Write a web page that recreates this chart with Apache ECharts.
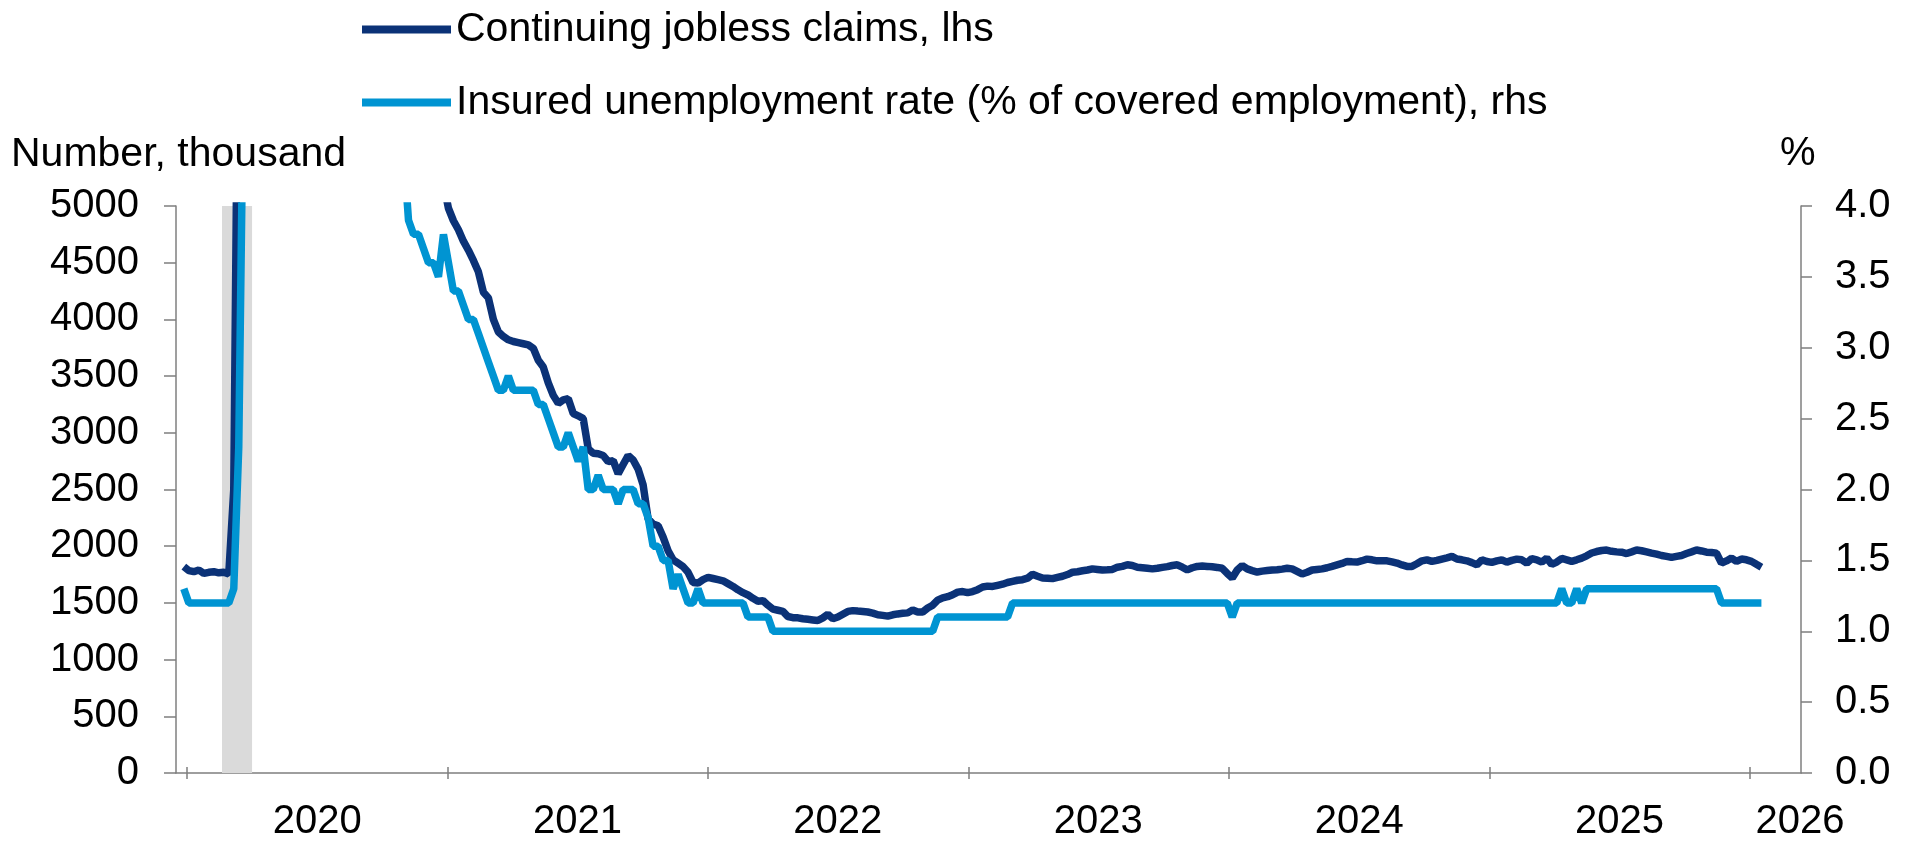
<!DOCTYPE html>
<html>
<head>
<meta charset="utf-8">
<title>Continuing jobless claims and insured unemployment rate</title>
<script src="https://cdn.jsdelivr.net/npm/echarts@6/dist/echarts.min.js"></script>
<style>
  html, body { margin: 0; padding: 0; background: #ffffff; }
  #chart { width: 1912px; height: 842px; }
</style>
</head>
<body>
<div id="chart"></div>
<script>
// Weekly observations, week ending Saturday, first week ends 2019-12-28.
const firstWeek = Date.UTC(2019, 11, 28);

// Continuing jobless claims, thousand (weekly blocks in order)
const claims2020 = [
  1820, 1785, 1775, 1790, 1760, 1770, 1775, 1765, 1770, 1755,
  2500, 7400, 12400, 16000, 18000, 22400, 22600, 24900, 21000, 20800,
  20500, 19500, 18800, 17800, 17300, 17100, 16200, 16100, 14800, 13600,
  13300, 13500, 12600, 12600, 11800, 10900, 10700, 10000, 9500, 8400,
  7800, 7300, 6900, 6400, 6100, 5800, 5500, 5300, 5300, 5200,
  5400, 5100, 5200
];
const claims2021 = [
  4980, 4870, 4790, 4690, 4610, 4520, 4420, 4240, 4190, 4000,
  3890, 3850, 3820, 3805, 3795, 3785, 3775, 3745, 3640, 3580,
  3440, 3330, 3260, 3290, 3300, 3170, 3150, 3125, 2860, 2820,
  2815, 2800, 2745, 2755, 2640, 2720, 2800, 2760, 2680, 2540,
  2240, 2195, 2180, 2080, 1960, 1880, 1850, 1820, 1770, 1680,
  1675, 1705
];
const claims2022 = [
  1725, 1715, 1705, 1695, 1670, 1645, 1615, 1590, 1570, 1540,
  1515, 1520, 1480, 1445, 1435, 1425, 1380, 1370, 1368, 1360,
  1355, 1350, 1345, 1368, 1400, 1360, 1375, 1400, 1425, 1432,
  1428, 1425, 1420, 1410, 1395, 1390, 1383, 1395, 1403, 1408,
  1412, 1438, 1420, 1420, 1455, 1480, 1525, 1545, 1555, 1572,
  1595, 1600
];
const claims2023 = [
  1590, 1600, 1617, 1640, 1648, 1645, 1655, 1665, 1680, 1690,
  1700, 1705, 1718, 1752, 1735, 1720, 1718, 1714, 1725, 1735,
  1750, 1770, 1775, 1783, 1790, 1800, 1795, 1790, 1792, 1795,
  1815, 1822, 1836, 1830, 1815, 1810, 1805, 1800, 1805, 1813,
  1820, 1830, 1836, 1815, 1791, 1810, 1822, 1825, 1822, 1818,
  1813, 1805
];
const claims2024 = [
  1760, 1720, 1790, 1830, 1800, 1785, 1772, 1780, 1785, 1790,
  1792, 1798, 1805, 1800, 1778, 1755, 1770, 1790, 1795, 1800,
  1810, 1822, 1835, 1848, 1866, 1862, 1860, 1872, 1886, 1880,
  1871, 1872, 1871, 1862, 1851, 1835, 1822, 1822, 1845, 1871,
  1880, 1866, 1875, 1887, 1898, 1910, 1887, 1880, 1871, 1855,
  1836, 1880
];
const claims2025 = [
  1865, 1857, 1870, 1880, 1860, 1875, 1886, 1880, 1851, 1890,
  1880, 1860, 1895, 1840, 1860, 1892, 1880, 1866, 1880, 1895,
  1915, 1940, 1953, 1962, 1966, 1955, 1950, 1947, 1935, 1950,
  1966, 1960, 1950, 1939, 1930, 1918, 1910, 1901, 1910, 1918,
  1935, 1950, 1966, 1958, 1947, 1945, 1939, 1850, 1870, 1895,
  1866, 1887
];
const claims2026 = [1880, 1866, 1840, 1815];

// Insured unemployment rate, % of covered employment
const rate2020 = [
  1.3, 1.2, 1.2, 1.2, 1.2, 1.2, 1.2, 1.2, 1.2, 1.2,
  1.3, 2.3, 5.1, 8.2, 10.9, 12.4, 14.5, 15.3, 17.0, 15.8,
  15.7, 15.3, 14.6, 13.9, 13.5, 12.9, 12.3, 12.1, 11.4, 10.6,
  10.2, 10.0, 9.5, 9.3, 8.6, 8.3, 7.7, 7.4, 6.9, 6.2,
  5.8, 5.4, 5.0, 4.7, 4.4, 3.9, 3.8, 3.8, 3.7, 3.6,
  3.6, 3.5, 3.8
];
const rate2021 = [
  3.6, 3.4, 3.4, 3.3, 3.2, 3.2, 3.1, 3.0, 2.9, 2.8,
  2.7, 2.7, 2.8, 2.7, 2.7, 2.7, 2.7, 2.7, 2.6, 2.6,
  2.5, 2.4, 2.3, 2.3, 2.4, 2.3, 2.2, 2.3, 2.0, 2.0,
  2.1, 2.0, 2.0, 2.0, 1.9, 2.0, 2.0, 2.0, 1.9, 1.9,
  1.8, 1.6, 1.6, 1.5, 1.5, 1.3, 1.4, 1.3, 1.2, 1.2,
  1.3, 1.2
];
const rate2022 = [
  1.2, 1.2, 1.2, 1.2, 1.2, 1.2, 1.2, 1.2, 1.1, 1.1,
  1.1, 1.1, 1.1, 1.0, 1.0, 1.0, 1.0, 1.0, 1.0, 1.0,
  1.0, 1.0, 1.0, 1.0, 1.0, 1.0, 1.0, 1.0, 1.0, 1.0,
  1.0, 1.0, 1.0, 1.0, 1.0, 1.0, 1.0, 1.0, 1.0, 1.0,
  1.0, 1.0, 1.0, 1.0, 1.0, 1.0, 1.1, 1.1, 1.1, 1.1,
  1.1, 1.1
];
const rate2023 = [
  1.1, 1.1, 1.1, 1.1, 1.1, 1.1, 1.1, 1.1, 1.1, 1.2,
  1.2, 1.2, 1.2, 1.2, 1.2, 1.2, 1.2, 1.2, 1.2, 1.2,
  1.2, 1.2, 1.2, 1.2, 1.2, 1.2, 1.2, 1.2, 1.2, 1.2,
  1.2, 1.2, 1.2, 1.2, 1.2, 1.2, 1.2, 1.2, 1.2, 1.2,
  1.2, 1.2, 1.2, 1.2, 1.2, 1.2, 1.2, 1.2, 1.2, 1.2,
  1.2, 1.2
];
const rate2024 = [
  1.2, 1.1, 1.2, 1.2, 1.2, 1.2, 1.2, 1.2, 1.2, 1.2,
  1.2, 1.2, 1.2, 1.2, 1.2, 1.2, 1.2, 1.2, 1.2, 1.2,
  1.2, 1.2, 1.2, 1.2, 1.2, 1.2, 1.2, 1.2, 1.2, 1.2,
  1.2, 1.2, 1.2, 1.2, 1.2, 1.2, 1.2, 1.2, 1.2, 1.2,
  1.2, 1.2, 1.2, 1.2, 1.2, 1.2, 1.2, 1.2, 1.2, 1.2,
  1.2, 1.2
];
const rate2025 = [
  1.2, 1.2, 1.2, 1.2, 1.2, 1.2, 1.2, 1.2, 1.2, 1.2,
  1.2, 1.2, 1.2, 1.2, 1.2, 1.3, 1.2, 1.2, 1.3, 1.2,
  1.3, 1.3, 1.3, 1.3, 1.3, 1.3, 1.3, 1.3, 1.3, 1.3,
  1.3, 1.3, 1.3, 1.3, 1.3, 1.3, 1.3, 1.3, 1.3, 1.3,
  1.3, 1.3, 1.3, 1.3, 1.3, 1.3, 1.3, 1.2, 1.2, 1.2,
  1.2, 1.2
];
const rate2026 = [1.2, 1.2, 1.2, 1.2];

// Axis ranges and tick labels
const X_MIN = Date.UTC(2019, 11, 17);
const X_MAX = Date.UTC(2026, 2, 13, 12);
const tickYears = [2020, 2021, 2022, 2023, 2024, 2025, 2026];
const yearLabels = ['2020', '2021', '2022', '2023', '2024', '2025', '2026'];
const recession = [Date.UTC(2020, 1, 19, 12), Date.UTC(2020, 3, 1, 16)];

const seriesNames = ['Continuing jobless claims, lhs',
                     'Insured unemployment rate (% of covered employment), rhs'];

const WEEK = 7 * 24 * 3600 * 1000;
function toPairs(values) {
  return values.map((v, i) => [firstWeek + i * WEEK, v]);
}
const claims = toPairs([].concat(claims2020, claims2021, claims2022, claims2023,
                                 claims2024, claims2025, claims2026));
const rate = toPairs([].concat(rate2020, rate2021, rate2022, rate2023,
                               rate2024, rate2025, rate2026));

// Ticks at year starts; labels centred in each year (last one at the axis end)
const yearStarts = tickYears.map(y => Date.UTC(y, 0, 1));
const labelValues = tickYears.map(y => y < 2026 ? Date.UTC(y, 6, 2) : Date.UTC(2026, 2, 12));
function yearLabel(v) {
  const i = labelValues.indexOf(v);
  return i >= 0 ? yearLabels[i] : String(new Date(v).getUTCFullYear());
}

const FONT = '"Liberation Sans", Arial, sans-serif';
const AXIS_GREY = '#7f7f7f';
const axisLine = { show: true, lineStyle: { color: AXIS_GREY, width: 1.5 } };
const tickLine = { color: AXIS_GREY, width: 1.5 };
const labelText = { fontSize: 40, color: '#000000', fontFamily: FONT };

const chart = echarts.init(document.getElementById('chart'), null, { renderer: 'canvas' });
chart.setOption({
  animation: false,
  backgroundColor: '#ffffff',
  grid: { left: 176, right: 111, top: 206, bottom: 66, containLabel: false },
  legend: {
    orient: 'vertical',
    left: 357,
    top: 4,
    itemWidth: 89,
    itemHeight: 8,
    itemGap: 32,
    icon: 'rect',
    selectedMode: false,
    textStyle: { fontSize: 41, lineHeight: 40, color: '#000000', fontFamily: FONT },
    data: seriesNames
  },
  graphic: [
    { type: 'text', left: 11, top: 134,
      style: { text: 'Number, thousand', font: '41px ' + FONT, fill: '#000000' } },
    { type: 'text', left: 1780, top: 134,
      style: { text: '%', font: '40px ' + FONT, fill: '#000000' } }
  ],
  xAxis: [
    {
      type: 'value', min: X_MIN, max: X_MAX, position: 'bottom',
      axisLine: axisLine,
      axisTick: { show: true, customValues: yearStarts, length: 6, lineStyle: tickLine },
      axisLabel: Object.assign({ customValues: labelValues, margin: 29, formatter: yearLabel }, labelText),
      splitLine: { show: false }
    },
    {
      type: 'value', min: X_MIN, max: X_MAX, position: 'bottom',
      axisLine: { show: false },
      axisTick: { show: true, inside: true, customValues: yearStarts, length: 6, lineStyle: tickLine },
      axisLabel: { show: false },
      splitLine: { show: false }
    }
  ],
  yAxis: [
    {
      type: 'value', min: 0, max: 5000, interval: 500, position: 'left',
      axisLine: axisLine,
      axisTick: { show: true, length: 12, lineStyle: tickLine },
      axisLabel: Object.assign({ margin: 37, formatter: v => String(v) }, labelText),
      splitLine: { show: false }
    },
    {
      type: 'value', min: 0, max: 4, interval: 0.5, position: 'right',
      axisLine: axisLine,
      axisTick: { show: true, length: 11, lineStyle: tickLine },
      axisLabel: Object.assign({ margin: 34, formatter: v => v.toFixed(1) }, labelText),
      splitLine: { show: false }
    }
  ],
  series: [
    {
      name: seriesNames[0], type: 'line', xAxisIndex: 0, yAxisIndex: 0,
      data: claims, showSymbol: false, symbol: 'none', clip: true, z: 2,
      color: '#0b3277',
      lineStyle: { color: '#0b3277', width: 7.5 },
      markArea: {
        silent: true,
        itemStyle: { color: '#dadada' },
        data: [[{ xAxis: recession[0] }, { xAxis: recession[1] }]]
      }
    },
    {
      name: seriesNames[1], type: 'line', xAxisIndex: 0, yAxisIndex: 1,
      data: rate, showSymbol: false, symbol: 'none', clip: true, z: 3,
      color: '#0094d2',
      lineStyle: { color: '#0094d2', width: 7.5 }
    }
  ]
});
</script>
</body>
</html>
